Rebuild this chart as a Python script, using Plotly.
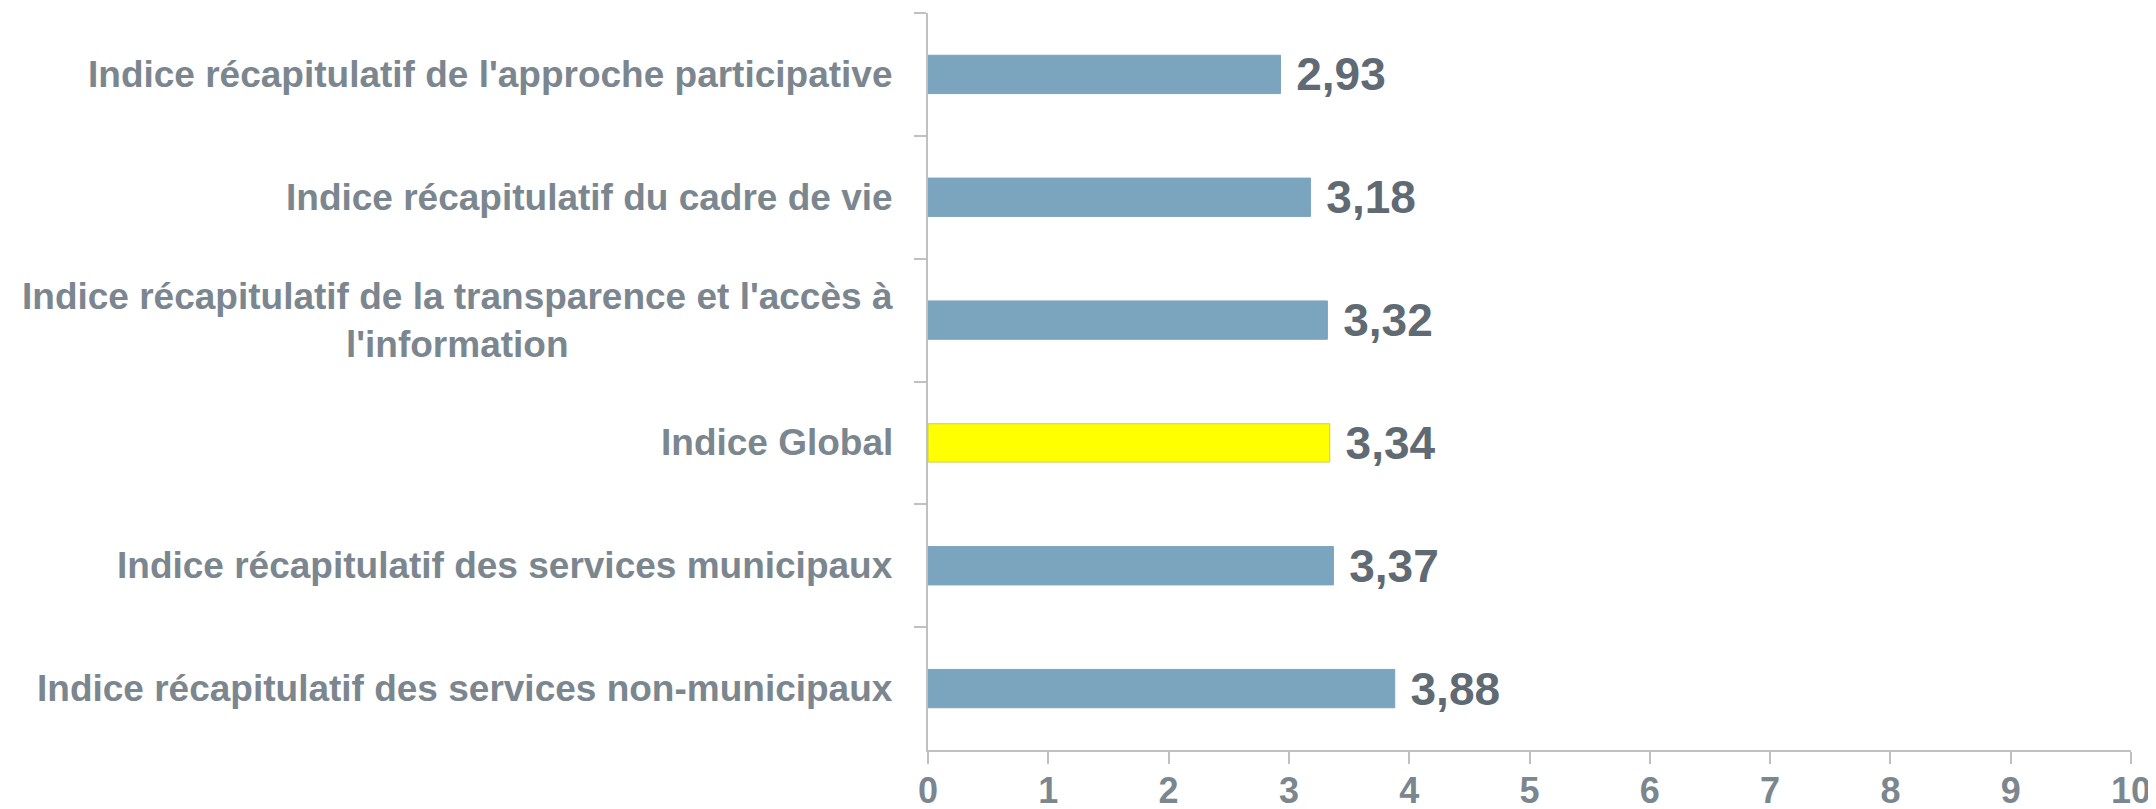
import plotly.graph_objects as go

categories = [
    "Indice récapitulatif de l'approche participative",
    "Indice récapitulatif du cadre de vie",
    "Indice récapitulatif de la transparence et l'accès à<br>l'information",
    "Indice Global",
    "Indice récapitulatif des services municipaux",
    "Indice récapitulatif des services non-municipaux",
]
values = [2.93, 3.18, 3.32, 3.34, 3.37, 3.88]
bar_colors = ["#7ba4bf", "#7ba4bf", "#7ba4bf", "#ffff00", "#7ba4bf", "#7ba4bf"]
line_colors = ["#7ba4bf", "#7ba4bf", "#7ba4bf", "#cccc55", "#7ba4bf", "#7ba4bf"]
x_ticks = [0, 1, 2, 3, 4, 5, 6, 7, 8, 9, 10]

FONT = "Liberation Sans, Arial, sans-serif"
LABEL_COLOR = "#7b868f"
VALUE_COLOR = "#5f6a73"
AXIS_COLOR = "#c0c0c0"

fig = go.Figure()
fig.add_trace(go.Bar(
    x=values,
    y=categories,
    orientation="h",
    marker=dict(color=bar_colors, line=dict(color=line_colors, width=1)),
    texttemplate="\u00a0%{x:.2f}",
    textposition="outside",
    constraintext="none",
    textfont=dict(family=FONT, size=46, color=VALUE_COLOR, weight="bold"),
    cliponaxis=False,
    hoverinfo="skip",
))

# category labels (centered multi-line) as annotations anchored on the category axis
for cat in categories:
    fig.add_annotation(
        x=0, xref="paper", y=cat, yref="y",
        text=cat, showarrow=False,
        xanchor="right", align="center", yanchor="middle",
        xshift=-33,
        font=dict(family=FONT, size=37, color=LABEL_COLOR, weight="bold"),
    )

# page body adds an 8px offset, so the figure is sized to fit the window
fig.update_layout(
    width=2148, height=801,
    margin=dict(l=920, r=25, t=5, b=59),
    plot_bgcolor="white", paper_bgcolor="white",
    separators=", ",
    bargap=0.688,
    showlegend=False,
    xaxis=dict(
        range=[0, 10], tickvals=x_ticks, showgrid=False, zeroline=False,
        showline=True, linecolor=AXIS_COLOR, linewidth=2,
        ticks="outside", ticklen=12, tickwidth=2, tickcolor=AXIS_COLOR,
        tickfont=dict(family=FONT, size=36, color=LABEL_COLOR, weight="bold"),
        ticklabelstandoff=-4, automargin=False,
    ),
    yaxis=dict(
        autorange="reversed", showgrid=False, zeroline=False,
        showline=True, linecolor=AXIS_COLOR, linewidth=2,
        ticks="outside", ticklen=12, tickwidth=2, tickcolor=AXIS_COLOR,
        tickson="boundaries", showticklabels=False, automargin=False,
    ),
)

fig.write_html("out.html")
